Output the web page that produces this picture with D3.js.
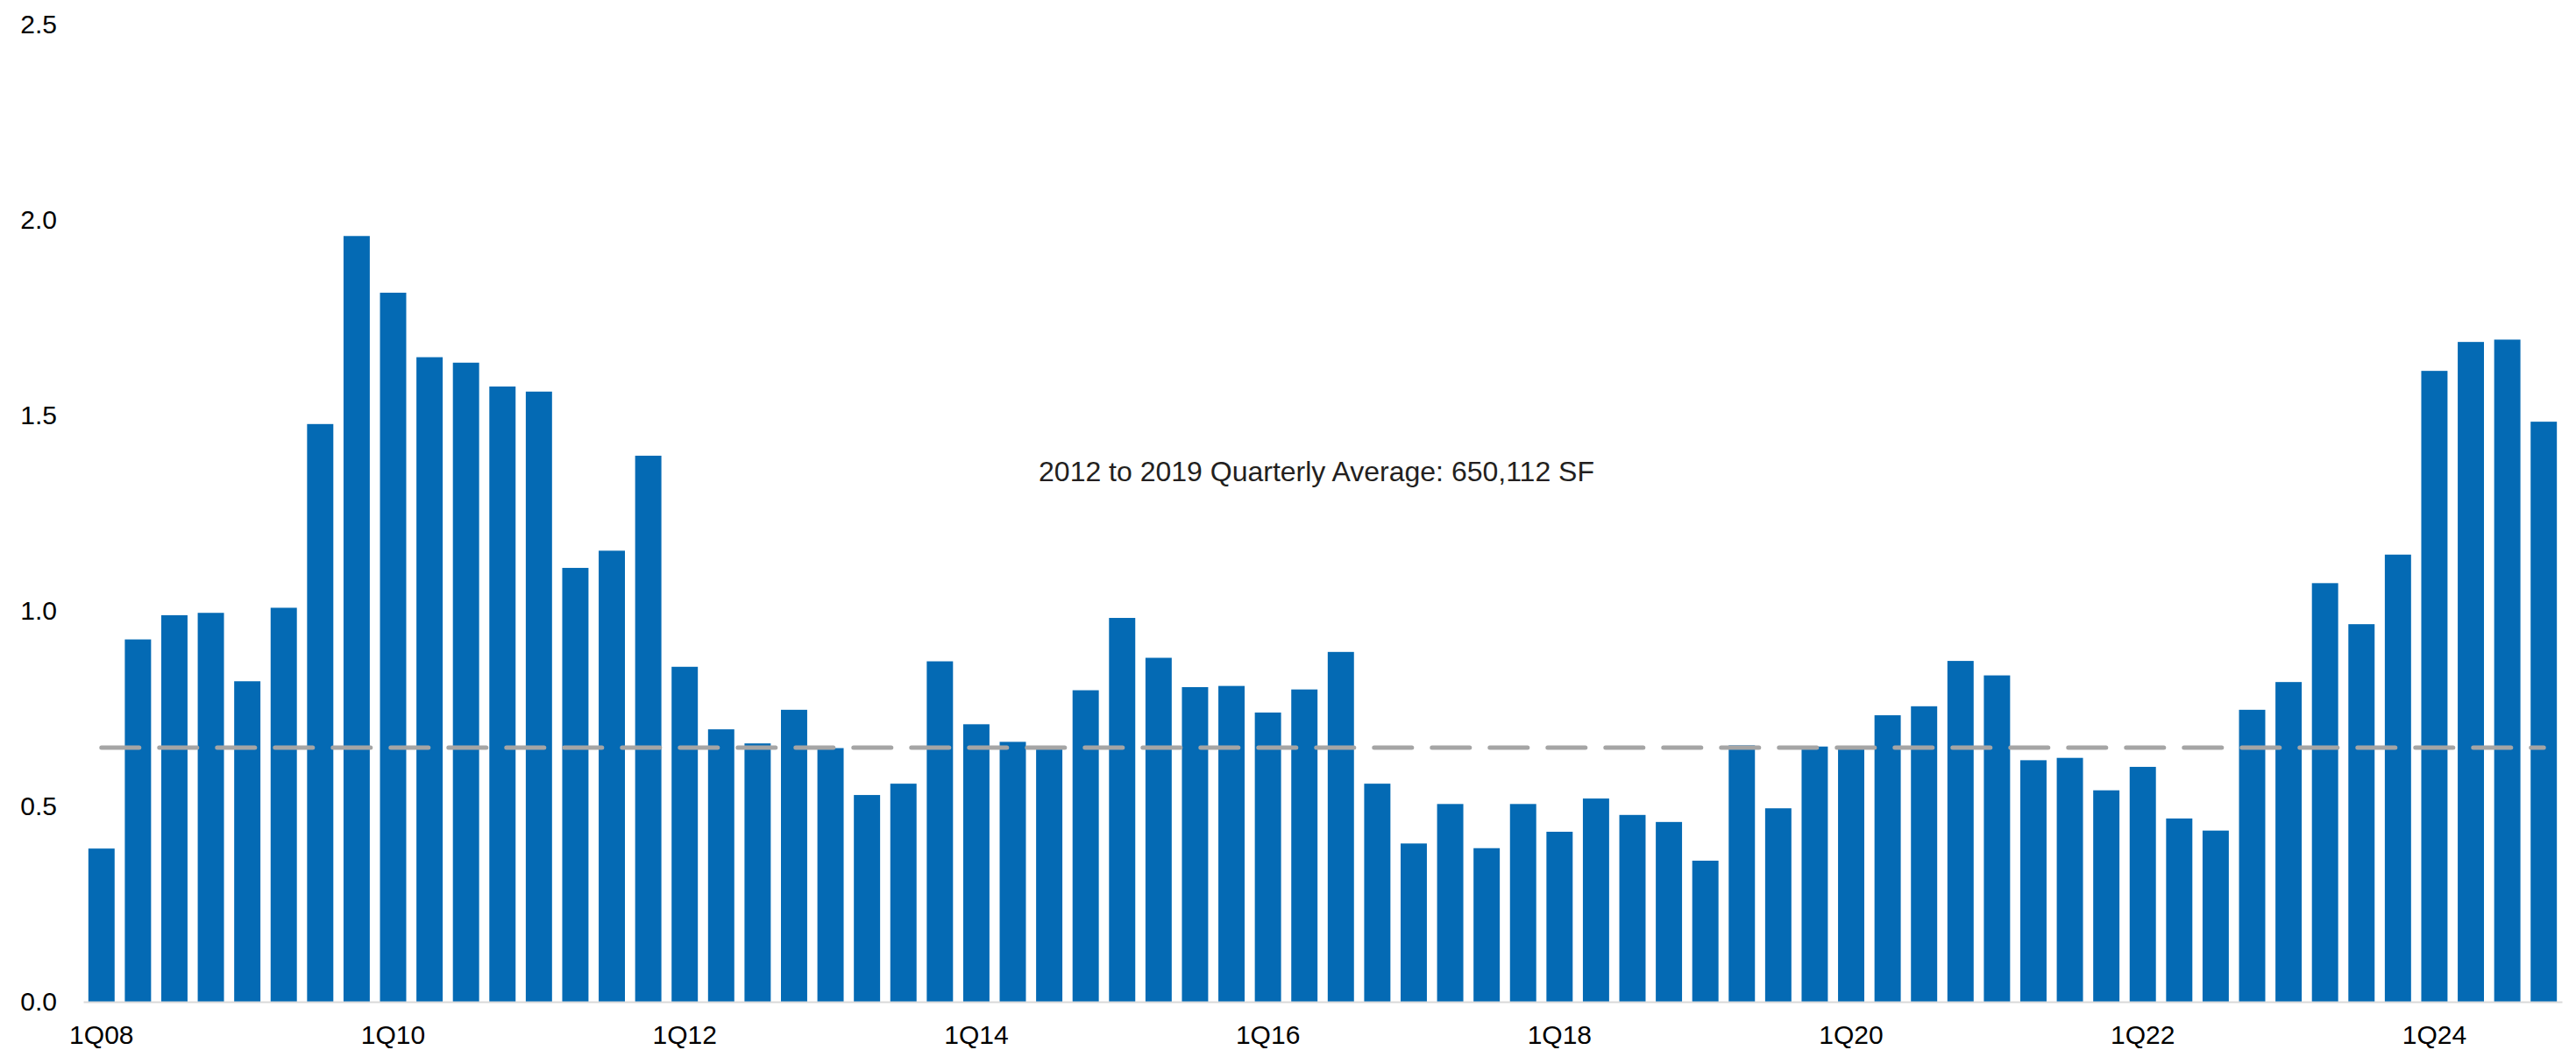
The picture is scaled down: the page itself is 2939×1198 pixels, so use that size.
<!DOCTYPE html>
<html>
<head>
<meta charset="utf-8">
<script src="https://cdn.jsdelivr.net/npm/d3@7"></script>
<style>
  html, body { margin: 0; padding: 0; background: #ffffff; }
  svg { display: block; font-family: Arial, "Liberation Sans", sans-serif; }
</style>
</head>
<body>
<svg id="chart" width="2939" height="1198"></svg>
<script>
// Quarterly categories, 1Q08 through 4Q24
const years = d3.range(8, 25);
const quarters = years.flatMap(yr => [1, 2, 3, 4].map(q => `${q}Q${String(yr).padStart(2, "0")}`));

// Quarterly values (millions of SF)
const values = [
  0.392, 0.927, 0.989, 0.995, 0.820, 1.008, 1.478, 1.959,
  1.814, 1.649, 1.635, 1.574, 1.561, 1.110, 1.154, 1.397,
  0.857, 0.697, 0.661, 0.747, 0.649, 0.529, 0.558, 0.871,
  0.710, 0.665, 0.646, 0.797, 0.982, 0.880, 0.805, 0.808,
  0.740, 0.799, 0.895, 0.558, 0.405, 0.506, 0.393, 0.506,
  0.435, 0.520, 0.478, 0.460, 0.361, 0.656, 0.495, 0.653,
  0.646, 0.733, 0.756, 0.872, 0.835, 0.618, 0.624, 0.541,
  0.601, 0.469, 0.438, 0.747, 0.818, 1.071, 0.966, 1.144,
  1.614, 1.688, 1.694, 1.484
];

// 2012-2019 quarterly average (SF) and its label
const averageSF = 650112;
const averageLabel = "2012 to 2019 Quarterly Average: 650,112 SF";

// Axis tick values
const yTicks = [0, 0.5, 1.0, 1.5, 2.0, 2.5];
const xTickLabels = ["1Q08", "1Q10", "1Q12", "1Q14", "1Q16", "1Q18", "1Q20", "1Q22", "1Q24"];

const data = quarters.map((q, i) => ({ q, v: values[i] }));

const svg = d3.select("#chart");
const plotLeft = 95, plotRight = 2923, plotTop = 28, plotBottom = 1143;

const x = d3.scaleBand()
  .domain(quarters)
  .range([plotLeft, plotRight])
  .paddingInner(0.28)
  .paddingOuter(0.14);

const y = d3.scaleLinear()
  .domain([0, 2.5])
  .range([plotBottom, plotTop]);

// Bars
svg.append("g")
  .selectAll("rect")
  .data(data)
  .join("rect")
  .attr("x", d => x(d.q))
  .attr("y", d => y(d.v))
  .attr("width", x.bandwidth())
  .attr("height", d => y(0) - y(d.v))
  .attr("fill", "#046ab4");

// Y axis labels (no line, no ticks)
const yAxis = svg.append("g")
  .attr("transform", `translate(${plotLeft},0)`)
  .call(d3.axisLeft(y).tickValues(yTicks).tickFormat(d3.format(".1f")).tickSize(0).tickPadding(30));
yAxis.select(".domain").remove();
yAxis.selectAll("text")
  .attr("font-size", 30)
  .attr("font-family", "Arial, 'Liberation Sans', sans-serif")
  .attr("fill", "#000");

// X axis: light baseline with labels every eighth quarter
const xAxis = svg.append("g")
  .attr("transform", `translate(0,${plotBottom})`)
  .call(d3.axisBottom(x).tickValues(xTickLabels).tickSize(0).tickSizeOuter(0).tickPadding(27));
xAxis.select(".domain")
  .attr("stroke", "#d9d9d9")
  .attr("stroke-width", 2);
xAxis.selectAll("text")
  .attr("font-size", 30)
  .attr("font-family", "Arial, 'Liberation Sans', sans-serif")
  .attr("fill", "#000");

// Average reference line
const firstQ = quarters[0], lastQ = quarters[quarters.length - 1];
svg.append("line")
  .attr("x1", x(firstQ) + x.bandwidth() / 2)
  .attr("x2", x(lastQ) + x.bandwidth() / 2)
  .attr("y1", y(averageSF / 1e6))
  .attr("y2", y(averageSF / 1e6))
  .attr("stroke", "#a5a5a5")
  .attr("stroke-width", 5)
  .attr("stroke-linecap", "round")
  .attr("stroke-dasharray", "43,23");

// Average annotation
svg.append("text")
  .attr("x", 1502)
  .attr("y", 549)
  .attr("text-anchor", "middle")
  .attr("font-size", 32)
  .attr("fill", "#231f20")
  .text(averageLabel);
</script>
</body>
</html>
